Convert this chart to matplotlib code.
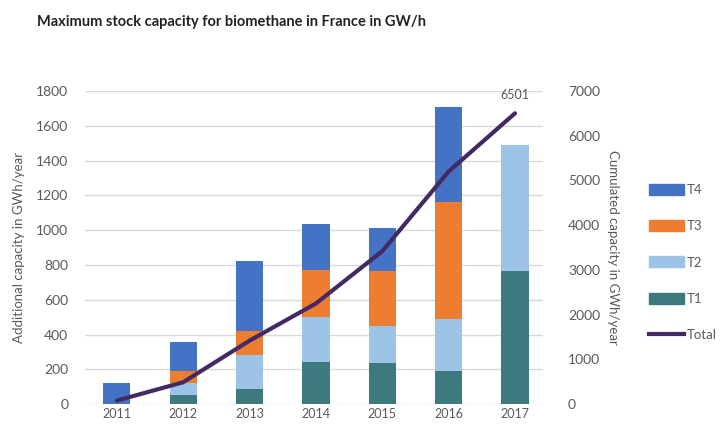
import matplotlib.pyplot as plt
from matplotlib.patches import Patch
from matplotlib.lines import Line2D

plt.rcParams["font.family"] = ["Lato", "DejaVu Sans"]

years = ["2011", "2012", "2013", "2014", "2015", "2016", "2017"]
t1 = [0, 55, 90, 240, 235, 190, 765]
t2 = [0, 65, 190, 260, 215, 300, 725]
t3 = [0, 70, 140, 270, 315, 670, 0]
t4 = [120, 165, 400, 265, 245, 545, 0]
total = [80, 490, 1420, 2250, 3420, 5200, 6501]

left_ticks = [0, 200, 400, 600, 800, 1000, 1200, 1400, 1600, 1800]
right_ticks = [0, 1000, 2000, 3000, 4000, 5000, 6000, 7000]

C_T1 = "#3d7a7e"
C_T2 = "#9dc3e6"
C_T3 = "#ed7d31"
C_T4 = "#4472c4"
C_TOTAL = "#442a63"
GREY = "#595959"

fig = plt.figure(figsize=(7.2, 4.25), dpi=100)
ax = fig.add_axes([0.118, 0.049, 0.636, 0.737])
ax2 = ax.twinx()

x = list(range(len(years)))
w = 0.41
b2 = [a + b for a, b in zip(t1, t2)]
b3 = [a + b for a, b in zip(b2, t3)]
ax.bar(x, t1, w, color=C_T1, zorder=2)
ax.bar(x, t2, w, bottom=t1, color=C_T2, zorder=2)
ax.bar(x, t3, w, bottom=b2, color=C_T3, zorder=2)
ax.bar(x, t4, w, bottom=b3, color=C_T4, zorder=2)

ax2.plot(x, total, color=C_TOTAL, lw=3, solid_capstyle="round")
ax2.annotate(str(total[-1]), (x[-1], total[-1]), xytext=(0, 9), textcoords="offset points",
             ha="center", va="bottom", fontsize=9, color=GREY)

ax.set_xlim(-0.48, 6.42)
ax.set_ylim(0, 1800)
ax2.set_ylim(0, 7000)
ax.set_yticks(left_ticks)
ax2.set_yticks(right_ticks)
ax.set_xticks(x)
ax.set_xticklabels(years)

ax.grid(axis="y", color="#d9d9d9", lw=1, zorder=0)
ax.set_axisbelow(True)
for a in (ax, ax2):
    for s in a.spines.values():
        s.set_visible(False)
    a.tick_params(length=0, labelsize=10, colors=GREY)
ax.tick_params(axis="y", pad=12)
ax2.tick_params(axis="y", pad=18)
ax.tick_params(axis="x", pad=3, labelsize=9)

ax.set_ylabel("Additional capacity in GWh/year", fontsize=9.5, color=GREY, labelpad=8)
ax2.set_ylabel("Cumulated capacity in GWh/year", fontsize=9.5, color=GREY, rotation=-90,
               labelpad=4, va="bottom")
ax2.yaxis.set_label_coords(1.14, 0.5)

fig.text(0.051, 0.948, "Maximum stock capacity for biomethane in France in GW/h",
         fontsize=10.5, fontweight="bold", color="#222222", va="center")

handles = [Patch(color=C_T4), Patch(color=C_T3), Patch(color=C_T2), Patch(color=C_T1),
           Line2D([], [], color=C_TOTAL, lw=3)]
fig.legend(handles, ["T4", "T3", "T2", "T1", "Total"], loc="upper left",
           bbox_to_anchor=(0.902, 0.568), frameon=False, fontsize=9.5, labelcolor=GREY,
           handlelength=2.6, handleheight=0.9, labelspacing=1.85, handletextpad=0.2,
           borderaxespad=0, borderpad=0)

fig.savefig("out.png", dpi=100)
